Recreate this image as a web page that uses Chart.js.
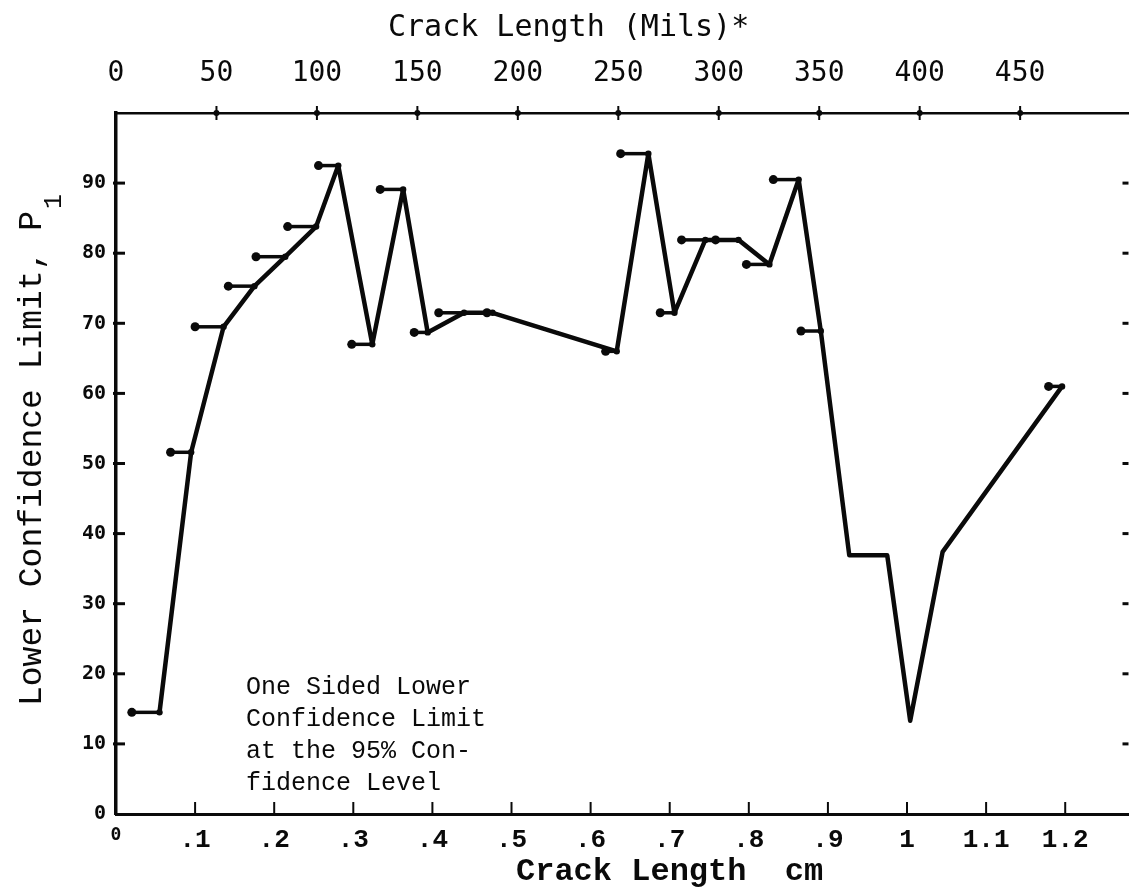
<!DOCTYPE html>
<html><head><meta charset="utf-8">
<script src="https://cdn.jsdelivr.net/npm/chart.js@4.4.1/dist/chart.umd.min.js"></script>
<style>html,body{margin:0;padding:0;background:#fff;}canvas{display:block;}</style>
</head><body>
<canvas id="c" width="1133" height="889"></canvas>
<script>
// ---- data ----
const crackCm = [0.055, 0.095, 0.136, 0.175, 0.214, 0.253, 0.281, 0.324, 0.363, 0.394, 0.440, 0.476,
                 0.633, 0.673, 0.706, 0.745, 0.787, 0.826, 0.863, 0.891, 0.927, 0.975, 1.004, 1.045, 1.196];
const lowerLimit = [14.5, 51.6, 69.5, 75.3, 79.5, 83.8, 92.5, 67.0, 89.1, 68.7, 71.5, 71.5,
                    66.0, 94.2, 71.5, 81.9, 81.9, 78.4, 90.5, 68.9, 36.9, 36.9, 13.3, 37.4, 61.0];
const intervalStartCm = [0.020, 0.069, 0.100, 0.142, 0.177, 0.217, 0.256, 0.298, 0.334, 0.377, 0.408, 0.469,
                         0.619, 0.638, 0.688, 0.715, 0.758, 0.797, 0.831, 0.866, null, null, null, null, 1.179];
const xTickLabels = ['0', '.1', '.2', '.3', '.4', '.5', '.6', '.7', '.8', '.9', '1', '1.1', '1.2'];
const yTickLabels = ['0', '10', '20', '30', '40', '50', '60', '70', '80', '90'];
const milTickLabels = ['0', '50', '100', '150', '200', '250', '300', '350', '400', '450'];
const CM_PER_MIL = 0.00254;
const X_MAX_CM = 1.28;
const Y_MAX = 100;
const topTitle = 'Crack Length (Mils)*';
const bottomTitle = 'Crack Length  cm';
const yTitleMain = 'Lower Confidence Limit, P';
const yTitleSub = '1';
const noteLines = ['One Sided Lower', 'Confidence Limit', 'at the 95% Con-', 'fidence Level'];

const INK = '#0a0a0a';
const MONO = "'Liberation Mono', 'Courier New', monospace";
const SANSMONO = "'DejaVu Sans Mono', monospace";

const mainSet = {
  data: crackCm.map((x, i) => ({x, y: lowerLimit[i]})),
  showLine: true, borderColor: INK, borderWidth: 4.5, pointRadius: 0,
  borderJoinStyle: 'round', borderCapStyle: 'round', tension: 0, clip: false
};
const whiskerSets = intervalStartCm.map((s, i) => s == null ? null : ({
  data: [{x: s, y: lowerLimit[i]}, {x: crackCm[i], y: lowerLimit[i]}],
  showLine: true, borderColor: INK, borderWidth: 3.5,
  pointRadius: [4.5, 3.2], pointBackgroundColor: INK, pointBorderWidth: 0,
  pointHoverRadius: 0, clip: false
})).filter(Boolean);

const noPad = s => { s.paddingLeft = 0; s.paddingRight = 0; s.paddingTop = 0; s.paddingBottom = 0; };

const axisMarks = {
  id: 'axisMarks',
  afterDraw(chart) {
    const {ctx, chartArea: a, scales} = chart;
    const seg = (x1, y1, x2, y2) => { ctx.beginPath(); ctx.moveTo(x1, y1); ctx.lineTo(x2, y2); ctx.stroke(); };
    ctx.save();
    ctx.strokeStyle = INK; ctx.fillStyle = INK; ctx.lineCap = 'butt';
    // left axis: crossing ticks
    ctx.lineWidth = 3;
    scales.y.ticks.forEach(t => {
      if (t.value <= 0 || t.value >= Y_MAX) return;
      const py = scales.y.getPixelForValue(t.value);
      seg(a.left - 3, py, a.left + 9, py);
      // right edge: short inside ticks
      seg(a.right - 6, py, a.right, py);
    });
    // bottom axis: ticks pointing up
    ctx.lineWidth = 2;
    scales.x.ticks.forEach(t => {
      if (t.value <= 0.001) return;
      const px = scales.x.getPixelForValue(t.value);
      seg(px, a.bottom, px, a.bottom - 12);
    });
    // top axis: crossing ticks with a dot
    scales.x2.ticks.forEach(t => {
      if (t.value <= 0 || t.value > 451) return;
      const px = scales.x2.getPixelForValue(t.value);
      ctx.lineWidth = 2;
      seg(px, a.top - 7, px, a.top + 7);
      ctx.beginPath(); ctx.arc(px, a.top, 3, 0, Math.PI * 2); ctx.fill();
    });

    // titles and note
    ctx.textAlign = 'left';
    ctx.textBaseline = 'alphabetic';
    ctx.font = `30px ${SANSMONO}`;
    ctx.fillText(topTitle, 388, 36);

    ctx.font = `bold 32px ${MONO}`;
    ctx.fillText(bottomTitle, 516, 880);

    ctx.font = `25px ${MONO}`;
    noteLines.forEach((s, i) => ctx.fillText(s, 246, 694 + i * 32));

    // rotated y title with subscript
    ctx.save();
    ctx.translate(41, 706);
    ctx.rotate(-Math.PI / 2);
    ctx.font = `33px ${MONO}`;
    ctx.fillText(yTitleMain, 0, 0);
    const w = ctx.measureText(yTitleMain).width;
    ctx.font = `25px ${MONO}`;
    ctx.fillText(yTitleSub, w + 2, 20);
    ctx.restore();

    ctx.restore();
  }
};

new Chart(document.getElementById('c'), {
  type: 'scatter',
  data: {datasets: [mainSet, ...whiskerSets]},
  options: {
    responsive: false, animation: false, devicePixelRatio: 1,
    layout: {padding: 0},
    events: [],
    plugins: {legend: {display: false}, tooltip: {enabled: false}},
    scales: {
      x: {
        type: 'linear', position: 'bottom', min: 0, max: X_MAX_CM,
        afterFit(s) { s.height = 75; noPad(s); },
        grid: {display: false},
        border: {display: true, color: INK, width: 3},
        ticks: {
          stepSize: 0.1, includeBounds: false, autoSkip: false, maxRotation: 0, minRotation: 0,
          padding: 3, color: INK,
          font: c => (c.tick && c.tick.value < 0.001)
            ? {family: SANSMONO, size: 18, weight: 'bold'}
            : {family: MONO, size: 26, weight: 'bold'},
          callback: v => xTickLabels[Math.round(v * 10)] ?? ''
        }
      },
      x2: {
        type: 'linear', position: 'top', min: 0, max: X_MAX_CM / CM_PER_MIL,
        afterFit(s) { s.height = 113; noPad(s); },
        grid: {display: false},
        border: {display: true, color: INK, width: 2.5},
        ticks: {
          stepSize: 50, includeBounds: false, autoSkip: false, maxRotation: 0, minRotation: 0,
          padding: 14, color: INK,
          font: {family: SANSMONO, size: 28},
          callback: v => milTickLabels[Math.round(v / 50)] ?? ''
        }
      },
      y: {
        type: 'linear', position: 'left', min: 0, max: Y_MAX,
        afterFit(s) { s.width = 116; noPad(s); },
        grid: {display: false},
        border: {display: true, color: INK, width: 3.5},
        ticks: {
          stepSize: 10, includeBounds: false, autoSkip: false,
          padding: 2, color: INK,
          font: {family: SANSMONO, size: 20, weight: 'bold'},
          callback: v => yTickLabels[Math.round(v / 10)] ?? ''
        }
      }
    }
  },
  plugins: [axisMarks]
});
</script>
</body></html>
